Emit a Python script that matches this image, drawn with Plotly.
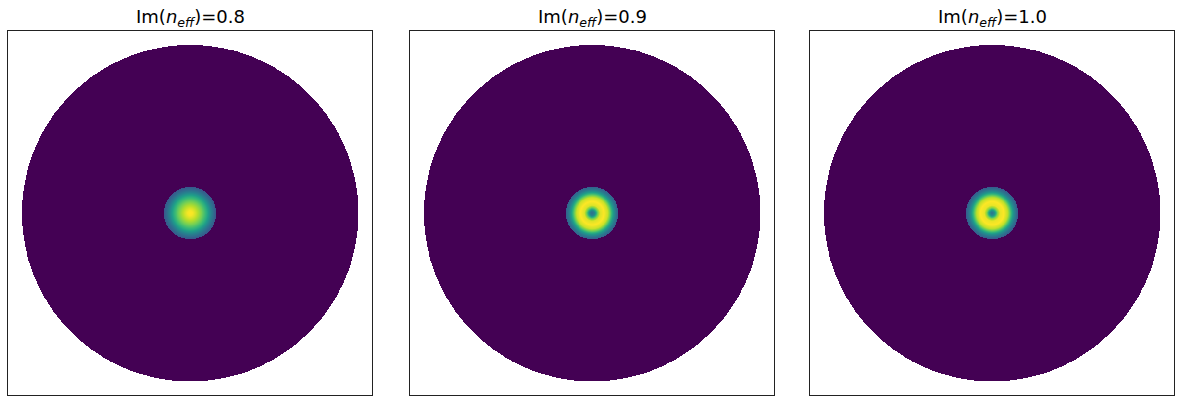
import numpy as np
import plotly.graph_objects as go

# Panel titles (values of Im(n_eff))
titles = ["0.8", "0.9", "1.0"]

# Radial intensity profiles (r normalised to core radius)
prof_r = [0.0, 0.1, 0.2, 0.3, 0.45, 0.6, 0.7, 0.8, 0.9, 1.0]
prof_08 = [1.00, 0.99, 0.94, 0.88, 0.78, 0.66, 0.55, 0.44, 0.34, 0.27]
prof_09 = [0.36, 0.45, 0.75, 0.95, 1.00, 0.92, 0.75, 0.55, 0.40, 0.30]
prof_10 = [0.38, 0.50, 0.80, 0.97, 1.00, 0.90, 0.72, 0.52, 0.38, 0.28]
profiles = [prof_08, prof_09, prof_10]

core_radius = 0.155   # relative to outer disc radius 1
grid_n = 701

x = np.linspace(-1, 1, grid_n)
y = np.linspace(-1, 1, grid_n)
X, Y = np.meshgrid(x, y)
R = np.sqrt(X**2 + Y**2)

W, H = 1178, 396
panel_left = [8, 410, 810]
panel_w = 364
top, bottom = 31, 395
half = 1.083

fig = go.Figure()
for i, prof in enumerate(profiles):
    rn = R / core_radius
    z = np.where(rn <= 1.0, np.interp(rn, prof_r, prof), 0.0)
    z = np.where(R <= 1.0, z, np.nan)
    xa = "x" if i == 0 else f"x{i+1}"
    ya = "y" if i == 0 else f"y{i+1}"
    fig.add_trace(go.Heatmap(x=x, y=y, z=z, colorscale="Viridis", zmin=0, zmax=1,
                             showscale=False, xaxis=xa, yaxis=ya, hoverinfo="skip"))
    dom_x = [panel_left[i] / W, (panel_left[i] + panel_w) / W]
    dom_y = [1 - bottom / H, 1 - top / H]
    ax = dict(domain=dom_x, range=[-half, half], showticklabels=False, ticks="",
              showgrid=False, zeroline=False, showline=True, linecolor="#222",
              linewidth=1, mirror=True, fixedrange=True, anchor=ya)
    ay = dict(domain=dom_y, range=[-half, half], showticklabels=False, ticks="",
              showgrid=False, zeroline=False, showline=True, linecolor="#222",
              linewidth=1, mirror=True, fixedrange=True, anchor=xa)
    fig.layout["xaxis" if i == 0 else f"xaxis{i+1}"] = ax
    fig.layout["yaxis" if i == 0 else f"yaxis{i+1}"] = ay
    fig.add_annotation(x=(panel_left[i] + panel_w / 2) / W, y=1 - 17.5 / H,
                       xref="paper", yref="paper", xanchor="center", yanchor="middle",
                       text=f"Im(<i>n</i><sub><i>eff</i></sub>)={titles[i]}",
                       showarrow=False, font=dict(family="DejaVu Sans", size=18, color="black"))

fig.update_layout(width=W, height=H, margin=dict(l=0, r=0, t=0, b=0),
                  paper_bgcolor="white", plot_bgcolor="white", showlegend=False)
fig.write_html("out.html", config={"displayModeBar": False},
               post_script="document.body.style.margin='0';document.body.style.overflow='hidden';")
